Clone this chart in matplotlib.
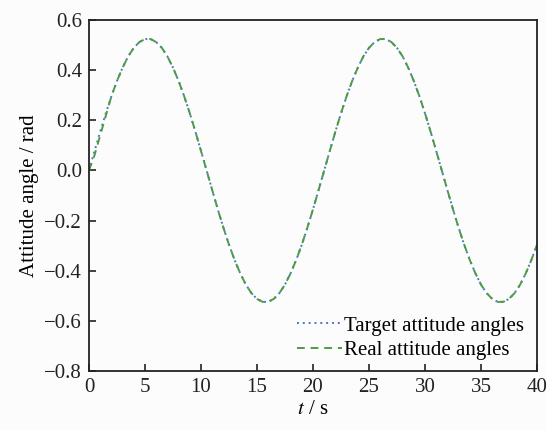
import matplotlib
matplotlib.use("Agg")
import matplotlib.pyplot as plt

plt.rcParams['font.family'] = ['Liberation Serif', 'DejaVu Serif']
plt.rcParams['mathtext.fontset'] = 'stix'

t = [i * 0.5 for i in range(81)]
half = [0.078, 0.155, 0.228, 0.296, 0.357, 0.410, 0.455, 0.489, 0.512, 0.524,
        0.524, 0.512, 0.489, 0.455, 0.410, 0.357, 0.296, 0.228, 0.155, 0.078]
target = ([0.0] + half + [0.0] + [-v for v in half] + [0.0] + half + [0.0]
          + [-v for v in half[:17]])
real = list(target)
real[1] = 0.062
real[2] = 0.140
real[3] = 0.218

xticks = [0, 5, 10, 15, 20, 25, 30, 35, 40]
yticks = [-0.8, -0.6, -0.4, -0.2, 0.0, 0.2, 0.4, 0.6]

fig = plt.figure(figsize=(5.46, 4.30), dpi=100)
fig.patch.set_facecolor('#fcfcfc')
ax = fig.add_axes([0.163, 0.137, 0.8205, 0.8165])
ax.set_facecolor('#fcfcfc')

ax.plot(t, target, linestyle=(0, (1, 2)), color='#4a78c8', lw=1.4,
        label='Target attitude angles')
ax.plot(t, real, linestyle=(0, (4, 3)), color='#4e9a46', lw=1.4,
        label='Real attitude angles')

ax.set_xlim(0, 40)
ax.set_ylim(-0.8, 0.6)
ax.set_xticks(xticks)
ax.set_xticklabels([str(v) for v in xticks])
ax.set_yticks(yticks)
ax.set_yticklabels([f"{v:.1f}".replace('-', '\u2212') for v in yticks])
ax.tick_params(direction='in', length=5, width=1.2, labelsize=15, pad=5,
               colors='#222222')
for s in ax.spines.values():
    s.set_linewidth(1.3)
    s.set_color('#222222')

ax.set_xlabel('$t$ / s', fontsize=15, labelpad=2)
ax.set_ylabel('Attitude angle / rad', fontsize=15, labelpad=4)

leg = ax.legend(loc='lower right', frameon=False, fontsize=15,
                handlelength=2.2, handletextpad=0.1, borderaxespad=0.2,
                labelspacing=0.25, bbox_to_anchor=(1.0, -0.005))

fig.savefig('out.png', dpi=100, facecolor=fig.get_facecolor())
